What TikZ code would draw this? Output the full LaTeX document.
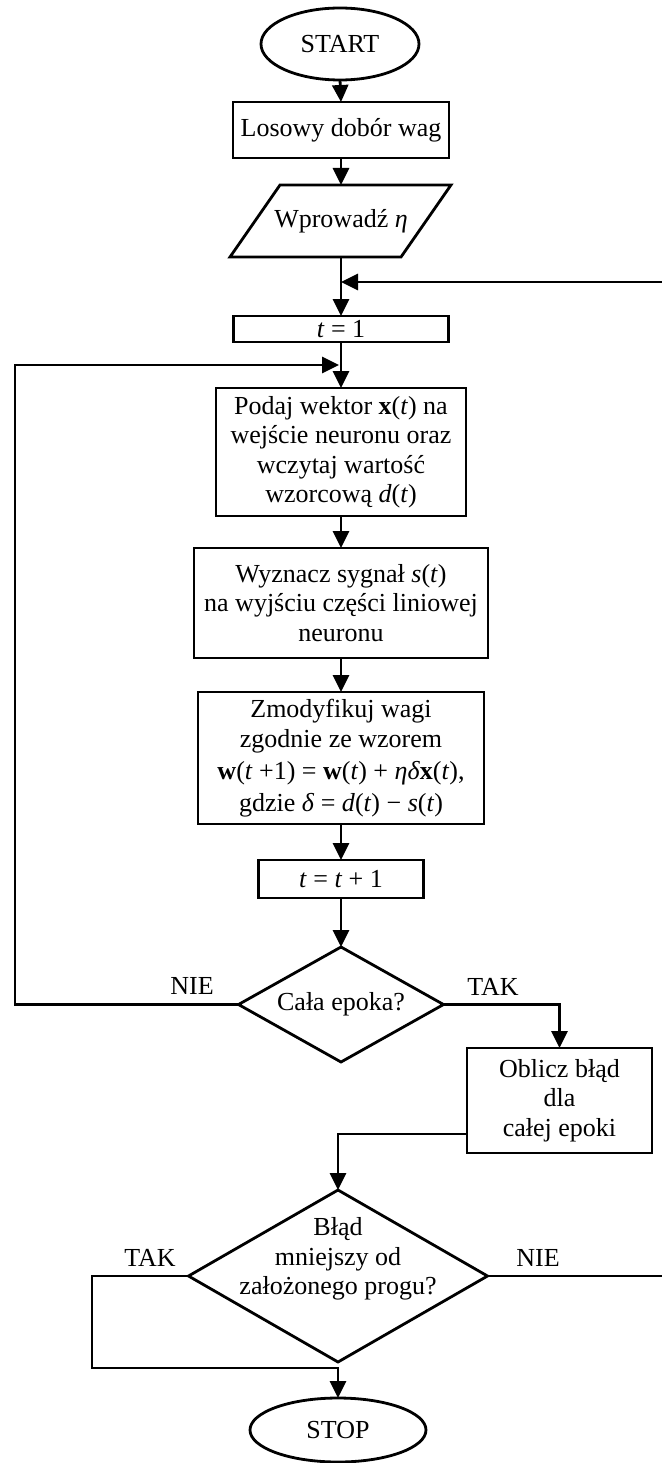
\documentclass[tikz,border=0pt]{standalone}
\usepackage{fontspec}
\setmainfont{Liberation Serif}
\usetikzlibrary{arrows.meta,shapes.geometric,calc}
\begin{document}
\begin{tikzpicture}[x=1pt,y=-1pt,
  every node/.style={font=\fontsize{26}{29.5}\selectfont, inner sep=0pt, outer sep=0pt},
  box/.style={draw, line width=2.8pt, rectangle, align=center},
  term/.style={draw, line width=2.8pt, ellipse},
  dec/.style={draw, line width=2.8pt, diamond},
  conn/.style={line width=2.8pt},
  arr/.style={conn, -{Triangle[length=17pt,width=16pt]}}
]
\useasboundingbox (0,0) rectangle (661,1463);

% nodes
\node[term, minimum width=158pt, minimum height=72pt] (start) at (340,44) {START};
\node[box, minimum width=216pt, minimum height=56pt] (b1) at (341,130) {Losowy dobór wag};
\node[minimum width=171pt, minimum height=72pt] (p) at (341,221) {Wprowadź \textit{η}};
\draw[conn] (230,257) -- (280,185) -- (451,185) -- (401,257) -- cycle;
\coordinate (jn) at (341,282);
\node[box, minimum width=215pt, minimum height=26pt] (t1) at (341,329) {\textit{t} = 1};
\coordinate (lp) at (339,365);
\node[box, minimum width=250pt, minimum height=128pt] (podaj) at (341,452)
  {Podaj wektor \textbf{x}(\textit{t}) na\\wejście neuronu oraz\\wczytaj wartość\\wzorcową \textit{d}(\textit{t})};
\node[box, minimum width=294pt, minimum height=110pt] (wyz) at (341,603)
  {Wyznacz sygnał \textit{s}(\textit{t})\\na wyjściu części liniowej\\neuronu};
\node[box, minimum width=286pt, minimum height=132pt] (zmod) at (341,758)
  {Zmodyfikuj wagi\\zgodnie ze wzorem\\[3pt]\textbf{w}(\textit{t} +1) = \textbf{w}(\textit{t}) + \textit{ηδ}\textbf{x}(\textit{t}),\\[2pt]gdzie \textit{δ} = \textit{d}(\textit{t}) − \textit{s}(\textit{t})};
\node[box, minimum width=165pt, minimum height=38pt] (t2) at (341,879) {\textit{t} = \textit{t} + 1};
\node[dec, minimum width=205pt, minimum height=115pt] (d1) at (341,1004.5) {};
\node (d1t) at (d1) {Cała epoka?};
\node (nie1) at (192,986) {NIE};
\node (tak1) at (493,987) {TAK};
\node[box, minimum width=185pt, minimum height=105pt] (obl) at (559.5,1100.5) {Oblicz błąd\\dla\\całej epoki};
\node[dec, minimum width=299pt, minimum height=172pt] (d2) at (338,1276) {};
\node[align=center] (d2t) at (338,1259) {Błąd\\mniejszy od\\założonego progu?};
\node (tak2) at (150,1258) {TAK};
\node (nie2) at (538,1258) {NIE};
\node[term, minimum width=176pt, minimum height=64pt] (stop) at (338,1430) {STOP};

% connectors
\draw[arr] (start.south) -- (b1.north);
\draw[arr] (b1.south) -- (p.north);
\draw[arr] (p.south) -- (t1.north);
\draw[arr] (t1.south) -- (podaj.north);
\draw[arr] (podaj.south) -- (wyz.north);
\draw[arr] (wyz.south) -- (zmod.north);
\draw[arr] (zmod.south) -- (t2.north);
\draw[arr] (t2.south) -- (d1.north);
\draw[arr] (d1.west) -| (15,365) -- (lp);
\draw[arr] (d1.east) -| (obl.north);
\draw[arr] ($(obl.south west)+(0,-19)$) -| (d2.north);
\draw[arr] (d2.west) -| (92,1368) -| (stop.north);
\draw[arr] (d2.east) -| (664,282) -- (jn);
\end{tikzpicture}
\end{document}
